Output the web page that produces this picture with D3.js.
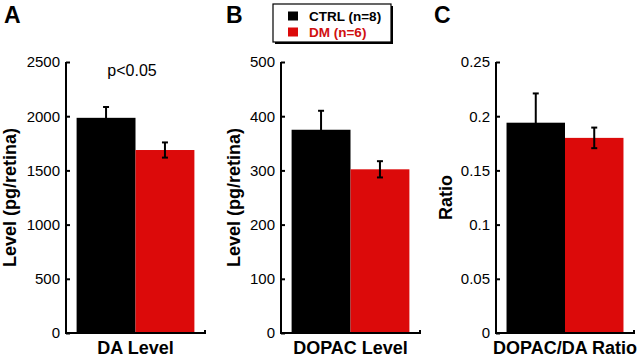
<!DOCTYPE html>
<html>
<head>
<meta charset="utf-8">
<script src="https://cdn.jsdelivr.net/npm/d3@7"></script>
<style>
  body { margin: 0; background: #fff; }
  text { font-family: "Liberation Sans", Arial, sans-serif; }
</style>
</head>
<body>
<div id="chart-area"></div>
<script>
// SVG Size
let width = 640,
	height = 357;

// data
let groups = ["CTRL (n=8)", "DM (n=6)"];
let groupColors = ["#000000", "#dc0a0a"];

let panelLetters = ["A", "B", "C"];
let xLabels = ["DA Level", "DOPAC Level", "DOPAC/DA Ratio"];
let yLabels = ["Level (pg/retina)", "Level (pg/retina)", "Ratio"];

let daMeans = [1985, 1688];
let daErrors = [100, 70];
let dopacMeans = [375, 302];
let dopacErrors = [35, 15];
let ratioMeans = [0.194, 0.180];
let ratioErrors = [0.027, 0.0095];

let daTicks = [0, 500, 1000, 1500, 2000, 2500];
let dopacTicks = [0, 100, 200, 300, 400, 500];
let ratioTicks = [0, 0.05, 0.1, 0.15, 0.2, 0.25];
let ratioTickLabels = ["0", "0.05", "0.1", "0.15", "0.2", "0.25"];

let panels = [
	{ means: daMeans, errs: daErrors, ticks: daTicks, fmt: d => d, x0: 66, x1: 205, ylx: 16, note: "p<0.05" },
	{ means: dopacMeans, errs: dopacErrors, ticks: dopacTicks, fmt: d => d, x0: 281, x1: 420, ylx: 240, note: null },
	{ means: ratioMeans, errs: ratioErrors, ticks: ratioTicks, fmt: (d, i) => ratioTickLabels[i], x0: 496, x1: 634, ylx: 452, note: null }
];
let letterX = [4, 226, 434];

let plotTop = 62,
	plotBottom = 333;

let svg = d3.select("#chart-area")
			.append('svg')
			.attr('width', width)
			.attr('height', height);

panels.forEach((p, i) => {
	let yScale = d3.scaleLinear()
				.domain([p.ticks[0], p.ticks[p.ticks.length - 1]])
				.range([plotBottom, plotTop]);

	let xScale = d3.scaleBand()
				.domain(groups)
				.range([p.x0, p.x1])
				.paddingInner(0)
				.paddingOuter(0.18);

	let g = svg.append('g').attr('class', 'panel');

	// bars
	g.selectAll("rect.bar")
		.data(p.means)
		.enter()
		.append("rect")
		.attr('class', 'bar')
		.attr('x', (d, j) => xScale(groups[j]))
		.attr('width', xScale.bandwidth())
		.attr('y', d => yScale(d))
		.attr('height', d => plotBottom - yScale(d))
		.attr('fill', (d, j) => groupColors[j]);

	// error bars
	let eb = g.selectAll("g.err")
		.data(p.means)
		.enter()
		.append("g")
		.attr('class', 'err')
		.attr('stroke', '#000')
		.attr('stroke-width', 2);

	let cx = j => xScale(groups[j]) + xScale.bandwidth() / 2;
	eb.append("line")
		.attr('x1', (d, j) => cx(j)).attr('x2', (d, j) => cx(j))
		.attr('y1', (d, j) => yScale(d + p.errs[j]))
		.attr('y2', (d, j) => yScale(d - p.errs[j]));
	eb.append("line")
		.attr('x1', (d, j) => cx(j) - 3).attr('x2', (d, j) => cx(j) + 3)
		.attr('y1', (d, j) => yScale(d + p.errs[j]))
		.attr('y2', (d, j) => yScale(d + p.errs[j]));
	eb.append("line")
		.attr('x1', (d, j) => cx(j) - 3).attr('x2', (d, j) => cx(j) + 3)
		.attr('y1', (d, j) => yScale(d - p.errs[j]))
		.attr('y2', (d, j) => yScale(d - p.errs[j]));

	// y axis, ticks pointing inward
	let yAxis = d3.axisLeft()
				.scale(yScale)
				.tickValues(p.ticks)
				.tickFormat(p.fmt)
				.tickSize(-4)
				.tickPadding(6);

	let y = g.append('g')
				.attr('class', 'axis y-axis')
				.attr('transform', 'translate(' + p.x0 + ', 0)')
				.call(yAxis);
	y.select('.domain').remove();
	y.selectAll('line').attr('stroke-width', 2);
	y.selectAll('text')
		.attr('font-size', 15)
		.attr('fill', '#000');

	// axis lines (L shape, small tick at right end)
	g.append('path')
		.attr('d', d3.line()([[p.x0, plotTop], [p.x0, plotBottom], [p.x1, plotBottom], [p.x1, plotBottom - 3]]))
		.attr('fill', 'none')
		.attr('stroke', '#000')
		.attr('stroke-width', 2);

	// y label
	g.append('text')
		.attr('transform', 'translate(' + p.ylx + ',' + ((plotTop + plotBottom) / 2) + ') rotate(-90)')
		.attr('text-anchor', 'middle')
		.attr('font-size', 18)
		.attr('font-weight', 'bold')
		.text(yLabels[i]);

	// x label
	g.append('text')
		.attr('x', (xScale(groups[0]) + xScale(groups[1]) + xScale.bandwidth()) / 2)
		.attr('y', 354)
		.attr('text-anchor', 'middle')
		.attr('font-size', 18)
		.attr('font-weight', 'bold')
		.text(xLabels[i]);

	// panel letter
	g.append('text')
		.attr('x', letterX[i])
		.attr('y', 23)
		.attr('font-size', 23)
		.attr('font-weight', 'bold')
		.text(panelLetters[i]);

	if (p.note) {
		g.append('text')
			.attr('x', 132)
			.attr('y', 76)
			.attr('text-anchor', 'middle')
			.attr('font-size', 16)
			.text(p.note);
	}
});

// legend
let legend = svg.append('g').attr('class', 'legend');
legend.append('rect')
	.attr('x', 275).attr('y', 6).attr('width', 118).attr('height', 38)
	.attr('fill', '#000');
legend.append('rect')
	.attr('x', 273).attr('y', 4).attr('width', 118).attr('height', 38)
	.attr('fill', '#fff').attr('stroke', '#000').attr('stroke-width', 1.2);

let legendScale = d3.scaleBand().domain(groups).range([8, 40]);
groups.forEach((gname, j) => {
	legend.append('rect')
		.attr('x', 288)
		.attr('y', legendScale(gname) + 3.5)
		.attr('width', 10)
		.attr('height', 9)
		.attr('fill', groupColors[j]);
	legend.append('text')
		.attr('x', 309)
		.attr('y', legendScale(gname) + 12.5)
		.attr('font-size', 13.5)
		.attr('font-weight', 'bold')
		.attr('fill', j == 0 ? '#000' : '#d01010')
		.text(gname);
});
</script>
</body>
</html>
